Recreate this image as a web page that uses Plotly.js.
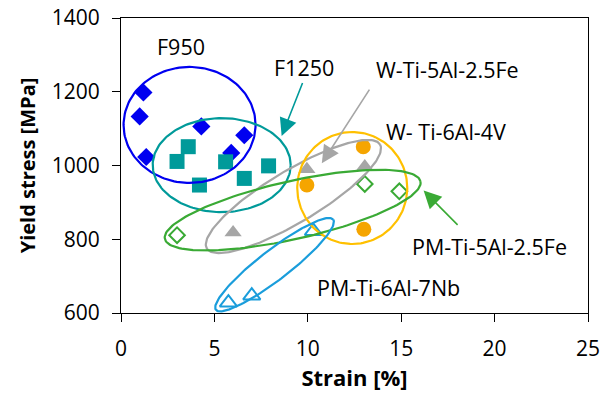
<!DOCTYPE html>
<html><head><meta charset="utf-8">
<script src="https://cdn.plot.ly/plotly-3.0.1.min.js"></script>
<style>body{margin:0;background:#fff}</style></head>
<body><div id="chart" style="width:603px;height:394px"></div>
<script>
// ---- data ----
const f950X = [1.2, 1.0, 1.35, 4.3, 6.6, 5.9];
const f950Y = [1198, 1133, 1023, 1106, 1082, 1034];
const f1250X = [3.0, 3.6, 5.6, 4.2, 6.6, 7.9];
const f1250Y = [1011, 1051, 1010, 947, 965, 999];
const wFeX = [6.0, 9.95, 13.05];
const wFeY = [818, 990, 997];
const wVX = [12.97, 9.95, 13.0];
const wVY = [1051, 947, 827];
const pmFeX = [3.0, 13.05, 14.9];
const pmFeY = [811, 950, 930];
const pmNbX = [5.75, 7.0, 10.3];
const pmNbY = [628, 647, 822];
const labels = ['F950', 'F1250', 'W-Ti-5Al-2.5Fe', 'W- Ti-6Al-4V', 'PM-Ti-5Al-2.5Fe', 'PM-Ti-6Al-7Nb'];
const xTicks = [0, 5, 10, 15, 20, 25];
const yTicks = [600, 800, 1000, 1200, 1400];

// ---- layout geometry ----
const M = {l: 121, r: 15, t: 18, b: 81};
const W = 603 - M.l - M.r, H = 394 - M.t - M.b;
const xr = [0, 25], yr = [600, 1400];
const pxX = W / (xr[1] - xr[0]), pxY = H / (yr[1] - yr[0]);

function ellipse(cx, cy, a, b, angDeg, color) {
  const t = angDeg * Math.PI / 180, xs = [], ys = [];
  for (let i = 0; i <= 160; i++) {
    const u = 2 * Math.PI * i / 160;
    const dx = a * Math.cos(u) * Math.cos(t) - b * Math.sin(u) * Math.sin(t);
    const dy = a * Math.cos(u) * Math.sin(t) + b * Math.sin(u) * Math.cos(t);
    xs.push(cx + dx / pxX); ys.push(cy + dy / pxY);
  }
  return {x: xs, y: ys, mode: 'lines', line: {color: color, width: 2.2}, hoverinfo: 'skip', showlegend: false, type: 'scatter'};
}

const cBlue = '#0000f0', cTeal = '#009a9a', cGrey = '#a6a6a6', cOrange = '#f5a500', cYellow = '#ffc000', cGreen = '#3aaa35', cLBlue = '#1a9ddb';

const traces = [
  {x: f950X, y: f950Y, mode: 'markers', type: 'scatter', marker: {symbol: 'diamond', size: 14, color: cBlue}},
  {x: f1250X, y: f1250Y, mode: 'markers', type: 'scatter', marker: {symbol: 'square', size: 15, color: cTeal}},
  {x: wFeX, y: wFeY, mode: 'markers', type: 'scatter', marker: {symbol: 'triangle-up', size: 15, color: cGrey}},
  {x: wVX, y: wVY, mode: 'markers', type: 'scatter', marker: {symbol: 'circle', size: 15, color: cOrange}},
  {x: pmFeX, y: pmFeY, mode: 'markers', type: 'scatter', marker: {symbol: 'diamond-open', size: 12, color: cGreen, line: {width: 2, color: cGreen}}},
  {x: pmNbX, y: pmNbY, mode: 'markers', type: 'scatter', marker: {symbol: 'triangle-up-open', size: 15, color: cLBlue, line: {width: 2, color: cLBlue}}},
  ellipse(3.67, 1110, 66, 58, 0, cBlue),
  ellipse(5.39, 1001, 69, 47, 0, cTeal),
  ellipse(9.23, 916, 101, 26, 31, cGrey),
  ellipse(12.38, 939, 55, 56, 0, cYellow),
  ellipse(9.19, 879, 131, 29, 12.7, cGreen),
  ellipse(8.22, 731, 74, 15, 37.6, cLBlue)
];
traces.forEach(t => t.showlegend = false);

const FAM = 'Open Sans, sans-serif';
const font = {family: FAM, size: 21.5, color: '#000'};
const tfont = {family: FAM, size: 21, color: '#000'};
function txt(x, y, s) { return {x: x, y: y, text: s, showarrow: false, font: font, xanchor: 'center', yanchor: 'middle'}; }
function arr(x, y, ax, ay, color, size) {
  return {x: x, y: y, ax: ax, ay: ay, axref: 'x', ayref: 'y', text: '', showarrow: true,
    arrowhead: 2, arrowsize: size, arrowwidth: 1.6, arrowcolor: color};
}

const layout = {
  width: 603, height: 394, margin: M, paper_bgcolor: '#fff', plot_bgcolor: '#fff',
  showlegend: false,
  xaxis: {range: xr, tickvals: xTicks, ticktext: xTicks.map(String), ticks: 'outside', ticklen: 8, tickcolor: '#000',
    showline: true, mirror: true, linecolor: '#000', linewidth: 1, showgrid: false, zeroline: false,
    ticklabelstandoff: 9,
    tickfont: tfont, title: {text: '<b>Strain [%]</b>', font: {family: FAM, size: 22, color: '#000'}, standoff: 2}},
  yaxis: {range: yr, tickvals: yTicks, ticktext: yTicks.map(String), ticks: 'outside', ticklen: 8, tickcolor: '#000',
    showline: true, mirror: true, linecolor: '#000', linewidth: 1, showgrid: false, zeroline: false,
    ticklabelstandoff: 8,
    tickfont: tfont, title: {text: '<b>Yield stress [MPa]</b>', font: {family: FAM, size: 20, color: '#000'}, standoff: 10}},
  annotations: [
    txt(3.2, 1323, labels[0]),
    txt(9.8, 1265, labels[1]),
    txt(17.5, 1260, labels[2]),
    txt(17.4, 1093, labels[3]),
    txt(19.7, 781, labels[4]),
    txt(14.3, 668, labels[5]),
    arr(8.6, 1080, 9.75, 1228, cTeal, 2.2),
    arr(10.75, 1006, 13.35, 1210, cGrey, 2.2),
    arr(16.2, 932, 18.1, 835, cGreen, 2.2)
  ]
};

Plotly.newPlot('chart', traces, layout, {staticPlot: true, displayModeBar: false});
</script></body></html>
